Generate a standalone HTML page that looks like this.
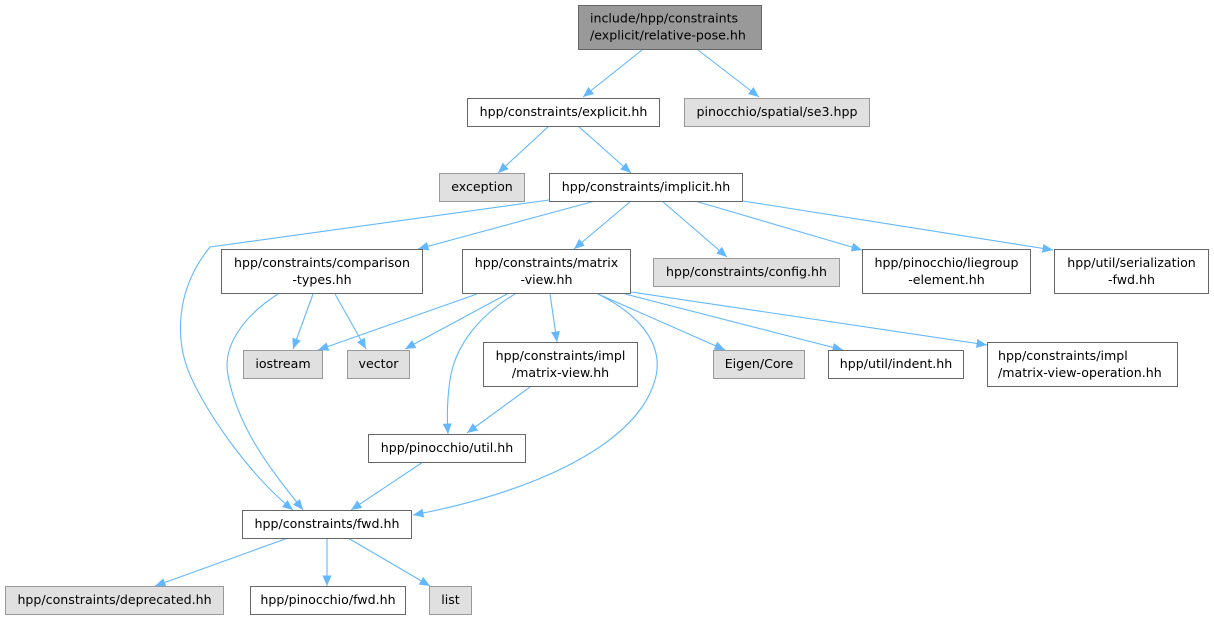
<!DOCTYPE html>
<html><head><meta charset="utf-8"><style>
html,body{margin:0;padding:0;background:#fff;}
svg{display:block;}
text{font-family:"DejaVu Sans","Liberation Sans",sans-serif;font-size:12.6px;fill:#000;}
.w{fill:#fff;stroke:#666;stroke-width:1;}
.g{fill:#e0e0e0;stroke:#999;stroke-width:1;}
.r{fill:#999;stroke:#666;stroke-width:1;}
.e{fill:none;stroke:#63b8ff;stroke-width:1.1;marker-end:url(#a);}
</style></head><body>
<svg width="1214" height="619" viewBox="0 0 1214 619" xmlns="http://www.w3.org/2000/svg">
<defs>
<marker id="a" markerUnits="userSpaceOnUse" markerWidth="11" markerHeight="9" refX="10.5" refY="4.5" orient="auto">
<path d="M0,0 L10.5,4.5 L0,9 z" fill="#63b8ff"/>
</marker>
</defs>

<!-- edges -->
<path class="e" d="M642,50 L583,97"/>
<path class="e" d="M698,50 L759,97"/>
<path class="e" d="M549,126 L498,173"/>
<path class="e" d="M578,126 L631,173"/>
<path class="e" d="M595,201 L418,249"/>
<path class="e" d="M631,201 L574,249"/>
<path class="e" d="M662,201 L727,257"/>
<path class="e" d="M695,201 L862,250"/>
<path class="e" d="M743,201 L1053,250"/>
<path class="e" d="M549,200 L210,247 C175,290 175,340 190,375 C210,420 255,480 293,510"/>
<path class="e" d="M313,294 L293,349"/>
<path class="e" d="M335,294 L366,349"/>
<path class="e" d="M278,294 C245,315 222,345 228,375 C238,430 275,475 303,510"/>
<path class="e" d="M477,294 L318,350"/>
<path class="e" d="M507,294 L405,349"/>
<path class="e" d="M515,294 C480,315 455,345 450,380 C447,400 447,420 448,434"/>
<path class="e" d="M550,294 L557,342"/>
<path class="e" d="M598,294 C640,315 665,345 655,380 C635,450 520,495 413,515"/>
<path class="e" d="M598,294 L725,350"/>
<path class="e" d="M625,294 L843,350"/>
<path class="e" d="M631,292 L987,345"/>
<path class="e" d="M530,387 L467,433"/>
<path class="e" d="M423,462 L351,510"/>
<path class="e" d="M288,538 L155,586"/>
<path class="e" d="M327,538 L327,586"/>
<path class="e" d="M348,538 L430,586"/>

<!-- nodes -->
<rect class="r" x="578.5" y="5.5" width="183" height="44"/>
<text x="590" y="22.5">include/hpp/constraints</text>
<text x="590" y="39.5">/explicit/relative-pose.hh</text>

<rect class="w" x="467.5" y="98.5" width="192" height="28"/>
<text x="563.5" y="116" text-anchor="middle">hpp/constraints/explicit.hh</text>

<rect class="g" x="684.5" y="98.5" width="185" height="28"/>
<text x="777" y="116" text-anchor="middle">pinocchio/spatial/se3.hpp</text>

<rect class="g" x="439.5" y="173.5" width="85" height="28"/>
<text x="482" y="191" text-anchor="middle">exception</text>

<rect class="w" x="549.5" y="173.5" width="193" height="28"/>
<text x="646" y="191" text-anchor="middle">hpp/constraints/implicit.hh</text>

<rect class="w" x="221.5" y="249.5" width="201" height="44"/>
<text x="322" y="267" text-anchor="middle">hpp/constraints/comparison</text>
<text x="322" y="284" text-anchor="middle">-types.hh</text>

<rect class="w" x="462.5" y="249.5" width="168" height="44"/>
<text x="546.5" y="267" text-anchor="middle">hpp/constraints/matrix</text>
<text x="546.5" y="284" text-anchor="middle">-view.hh</text>

<rect class="g" x="653.5" y="258.5" width="186" height="28"/>
<text x="746.5" y="276" text-anchor="middle">hpp/constraints/config.hh</text>

<rect class="w" x="862.5" y="249.5" width="168" height="44"/>
<text x="946.5" y="267" text-anchor="middle">hpp/pinocchio/liegroup</text>
<text x="946.5" y="284" text-anchor="middle">-element.hh</text>

<rect class="w" x="1054.5" y="249.5" width="154" height="44"/>
<text x="1131.5" y="267" text-anchor="middle">hpp/util/serialization</text>
<text x="1131.5" y="284" text-anchor="middle">-fwd.hh</text>

<rect class="g" x="243.5" y="350.5" width="79" height="28"/>
<text x="283" y="368" text-anchor="middle">iostream</text>

<rect class="g" x="347.5" y="350.5" width="62" height="28"/>
<text x="378.5" y="368" text-anchor="middle">vector</text>

<rect class="w" x="483.5" y="342.5" width="154" height="44"/>
<text x="560.5" y="360" text-anchor="middle">hpp/constraints/impl</text>
<text x="560.5" y="377" text-anchor="middle">/matrix-view.hh</text>

<rect class="g" x="713.5" y="350.5" width="91" height="28"/>
<text x="759" y="368" text-anchor="middle">Eigen/Core</text>

<rect class="w" x="828.5" y="350.5" width="135" height="28"/>
<text x="896" y="368" text-anchor="middle">hpp/util/indent.hh</text>

<rect class="w" x="987.5" y="342.5" width="190" height="44"/>
<text x="998" y="360">hpp/constraints/impl</text>
<text x="998" y="377">/matrix-view-operation.hh</text>

<rect class="w" x="368.5" y="434.5" width="157" height="28"/>
<text x="447" y="452" text-anchor="middle">hpp/pinocchio/util.hh</text>

<rect class="w" x="242.5" y="510.5" width="169" height="28"/>
<text x="327" y="528" text-anchor="middle">hpp/constraints/fwd.hh</text>

<rect class="g" x="5.5" y="586.5" width="218" height="28"/>
<text x="114.5" y="604" text-anchor="middle">hpp/constraints/deprecated.hh</text>

<rect class="w" x="250.5" y="586.5" width="155" height="28"/>
<text x="328" y="604" text-anchor="middle">hpp/pinocchio/fwd.hh</text>

<rect class="g" x="429.5" y="586.5" width="42" height="28"/>
<text x="450.5" y="604" text-anchor="middle">list</text>
</svg>
</body></html>
